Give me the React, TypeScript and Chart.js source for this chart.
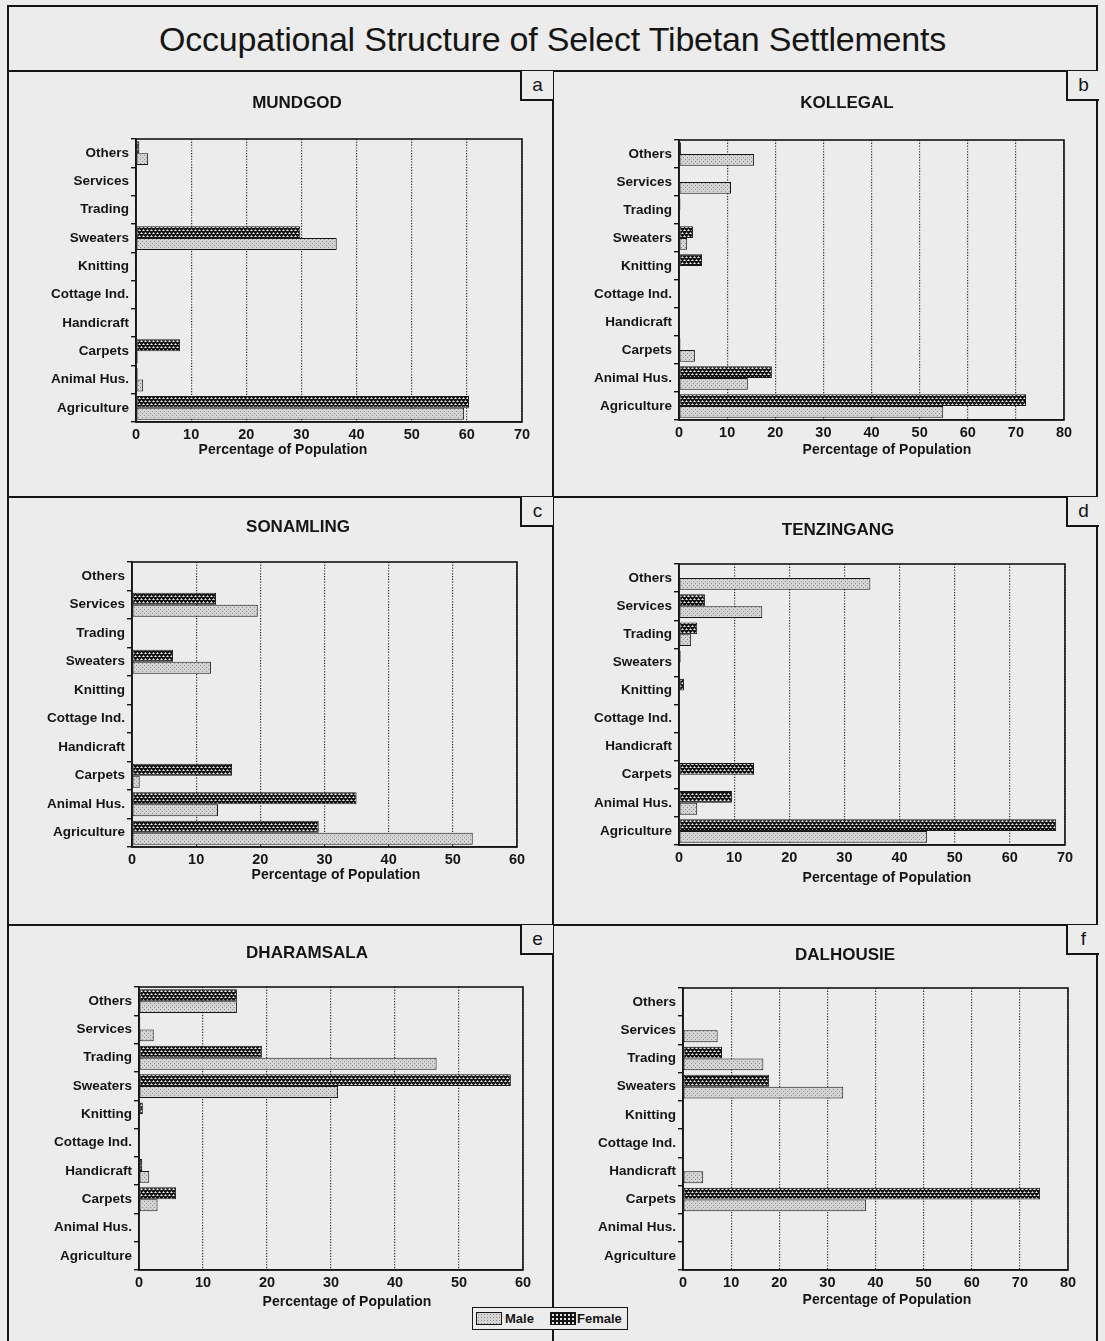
import React, { useEffect, useRef } from "react";
import { Chart, registerables } from "chart.js";

Chart.register(...registerables);

// ---------------- data ----------------
const categories = [
  "Others",
  "Services",
  "Trading",
  "Sweaters",
  "Knitting",
  "Cottage Ind.",
  "Handicraft",
  "Carpets",
  "Animal Hus.",
  "Agriculture",
];

const mundgodFemale = [0.6, 0, 0, 29.8, 0, 0, 0, 8, 0.3, 60.4];
const mundgodMale = [2.2, 0, 0, 36.4, 0, 0, 0, 0.3, 1.3, 59.5];
const mundgodMax = 70;

const kollegalFemale = [0.4, 0, 0.3, 2.9, 4.8, 0, 0, 0.3, 19.3, 72.1];
const kollegalMale = [15.6, 10.8, 0, 1.7, 0, 0, 0, 3.3, 14.3, 54.9];
const kollegalMax = 80;

const sonamlingFemale = [0, 13.1, 0, 6.4, 0, 0, 0, 15.6, 35, 29.1];
const sonamlingMale = [0, 19.6, 0, 12.3, 0, 0, 0, 1.2, 13.4, 53.1];
const sonamlingMax = 60;

const tenzingangFemale = [0, 4.7, 3.3, 0.3, 0.9, 0, 0, 13.6, 9.6, 68.4];
const tenzingangMale = [34.7, 15.1, 2.2, 0, 0, 0, 0, 0, 3.3, 45];
const tenzingangMax = 70;

const dharamsalaFemale = [15.3, 0.2, 19.2, 58.1, 0.6, 0, 0.5, 5.8, 0, 0];
const dharamsalaMale = [15.3, 2.3, 46.5, 31.1, 0, 0, 1.6, 2.9, 0, 0];
const dharamsalaMax = 60;

const dalhousieFemale = [0, 0, 8.1, 17.9, 0, 0, 0, 74.2, 0, 0];
const dalhousieMale = [0, 7.2, 16.7, 33.3, 0, 0, 4.2, 38, 0, 0];
const dalhousieMax = 80;

const mainTitle = "Occupational Structure of Select Tibetan Settlements";
const xAxisTitle = "Percentage of Population";
const seriesNames = ["Male", "Female"];

// ---------------- layout ----------------
const FONT = '"Liberation Sans", Arial, Helvetica, sans-serif';
const INK = "#151515";
const PAPER = "#ececec";
const XH = 24;

const panels = [
  { name: "MUNDGOD", letter: "a", female: mundgodFemale, male: mundgodMale, max: mundgodMax,
    cell: [10, 73, 541, 422], plot: [136, 139, 522, 422], title: [297, 103], axisTitle: [283, 450] },
  { name: "KOLLEGAL", letter: "b", female: kollegalFemale, male: kollegalMale, max: kollegalMax,
    cell: [555, 73, 540, 422], plot: [679, 140, 1064, 420], title: [847, 103], axisTitle: [887, 450] },
  { name: "SONAMLING", letter: "c", female: sonamlingFemale, male: sonamlingMale, max: sonamlingMax,
    cell: [10, 499, 541, 424], plot: [132, 562, 517, 847], title: [298, 527], axisTitle: [336, 875] },
  { name: "TENZINGANG", letter: "d", female: tenzingangFemale, male: tenzingangMale, max: tenzingangMax,
    cell: [555, 499, 540, 424], plot: [679, 564, 1065, 845], title: [838, 530], axisTitle: [887, 878] },
  { name: "DHARAMSALA", letter: "e", female: dharamsalaFemale, male: dharamsalaMale, max: dharamsalaMax,
    cell: [10, 927, 541, 414], plot: [139, 987, 523, 1270], title: [307, 953], axisTitle: [347, 1302] },
  { name: "DALHOUSIE", letter: "f", female: dalhousieFemale, male: dalhousieMale, max: dalhousieMax,
    cell: [555, 927, 540, 414], plot: [683, 988, 1068, 1270], title: [845, 955], axisTitle: [887, 1300] },
];

function makePattern(kind: string): CanvasPattern | string {
  const c = document.createElement("canvas");
  const g = c.getContext("2d");
  if (!g) return kind === "female" ? "#333" : "#ccc";
  if (kind === "female") {
    c.width = 4;
    c.height = 6;
    g.fillStyle = "#141414";
    g.fillRect(0, 0, 4, 6);
    // staggered white dots with grey halo
    g.fillStyle = "#9a9a9a";
    g.fillRect(1, 0, 1, 1);
    g.fillRect(0, 1, 1, 1);
    g.fillRect(2, 1, 1, 1);
    g.fillRect(3, 3, 1, 1);
    g.fillRect(0, 4, 1, 1);
    g.fillRect(2, 4, 1, 1);
    g.fillStyle = "#f0f0f0";
    g.fillRect(1, 1, 1, 1);
    g.fillRect(3, 4, 1, 1);
  } else {
    c.width = 4;
    c.height = 4;
    g.fillStyle = "#d4d4d4";
    g.fillRect(0, 0, 4, 4);
    g.fillStyle = "#8e8e8e";
    g.fillRect(0, 0, 1, 1);
    g.fillRect(2, 2, 1, 1);
  }
  return g.createPattern(c, "repeat") || "#ccc";
}

const framePlugin = {
  id: "plotFrame",
  afterDraw(chart: any) {
    const { ctx, chartArea } = chart;
    ctx.save();
    ctx.strokeStyle = INK;
    ctx.lineWidth = 1.6;
    ctx.strokeRect(chartArea.left, chartArea.top, chartArea.right - chartArea.left, chartArea.bottom - chartArea.top);
    ctx.restore();
  },
};

function textPlugin(p: any) {
  return {
    id: "panelText",
    afterDraw(chart: any) {
      const ctx = chart.ctx;
      ctx.save();
      ctx.fillStyle = INK;
      ctx.textAlign = "center";
      ctx.textBaseline = "middle";
      ctx.font = `bold 17px ${FONT}`;
      ctx.fillText(p.name, p.title[0] - p.cell[0], p.title[1] - p.cell[1]);
      ctx.font = `bold 14px ${FONT}`;
      ctx.fillText(xAxisTitle, p.axisTitle[0] - p.cell[0], p.axisTitle[1] - p.cell[1]);
      ctx.restore();
    },
  };
}

function Line({ x, y, w, h }: { x: number; y: number; w: number; h: number }) {
  return <div style={{ position: "absolute", left: x, top: y, width: w, height: h, background: INK }} />;
}

export default function App() {
  const refs = useRef<(HTMLCanvasElement | null)[]>([]);

  useEffect(() => {
    const femalePat = makePattern("female");
    const malePat = makePattern("male");
    const charts: Chart[] = [];
    panels.forEach((p, i) => {
      const canvas = refs.current[i];
      if (!canvas) return;
      const [cx, cy, cw, ch] = p.cell;
      const [L, T, R, B] = p.plot;
      const chart = new Chart(canvas, {
        type: "bar",
        data: {
          labels: categories,
          datasets: [
            {
              label: seriesNames[1],
              data: p.female,
              backgroundColor: femalePat as any,
              borderColor: INK,
              borderWidth: 1,
              borderSkipped: false,
              categoryPercentage: 0.84,
              barPercentage: 1,
            },
            {
              label: seriesNames[0],
              data: p.male,
              backgroundColor: malePat as any,
              borderColor: INK,
              borderWidth: 1,
              borderSkipped: false,
              categoryPercentage: 0.84,
              barPercentage: 1,
            },
          ],
        },
        options: {
          indexAxis: "y",
          responsive: false,
          maintainAspectRatio: false,
          animation: false,
          devicePixelRatio: 1,
          layout: { padding: { left: 0, top: T - cy, right: cx + cw - R, bottom: cy + ch - B - XH } },
          plugins: { legend: { display: false }, tooltip: { enabled: false }, title: { display: false } },
          scales: {
            x: {
              type: "linear",
              min: 0,
              max: p.max,
              ticks: { stepSize: 10, color: INK, padding: 4, font: { family: FONT, size: 14.5, weight: "bold" } },
              grid: { color: "#2e2e2e", lineWidth: 1.2, drawTicks: false },
              border: { display: true, color: INK, width: 1.6, dash: [1.2, 1.6] },
              afterFit: (s: any) => {
                s.height = XH;
              },
            },
            y: {
              type: "category",
              offset: true,
              grid: { offset: true, drawOnChartArea: false, drawTicks: true, tickLength: 5, color: INK, lineWidth: 1.4 },
              ticks: { color: INK, padding: 2, autoSkip: false, font: { family: FONT, size: 13.5, weight: "bold" } },
              border: { color: INK, width: 1.6 },
              afterFit: (s: any) => {
                s.width = L - cx;
              },
            },
          },
        } as any,
        plugins: [framePlugin, textPlugin(p)],
      });
      charts.push(chart);
    });
    return () => charts.forEach((c) => c.destroy());
  }, []);

  const swatchMale: React.CSSProperties = {
    position: "absolute",
    width: 24,
    height: 11,
    border: `1px solid ${INK}`,
    backgroundColor: "#d4d4d4",
    backgroundImage: "radial-gradient(#8e8e8e 0.7px, transparent 0.9px)",
    backgroundSize: "3px 3px",
  };
  const swatchFemale: React.CSSProperties = {
    ...swatchMale,
    backgroundColor: "#141414",
    backgroundImage: "radial-gradient(#e6e6e6 0.9px, transparent 1.2px)",
    backgroundSize: "4px 4px",
  };
  const legendText: React.CSSProperties = {
    position: "absolute",
    top: 3,
    font: `bold 13px ${FONT}`,
    color: INK,
    lineHeight: "16px",
  };

  const letterBoxes = [
    { l: "a", x: 520, y: 71 },
    { l: "b", x: 1066, y: 71 },
    { l: "c", x: 520, y: 497 },
    { l: "d", x: 1066, y: 497 },
    { l: "e", x: 520, y: 925 },
    { l: "f", x: 1066, y: 925 },
  ];

  return (
    <div
      style={{
        position: "absolute",
        left: 0,
        top: 0,
        width: 1105,
        height: 1341,
        overflow: "hidden",
        background: PAPER,
        fontFamily: FONT,
      }}
    >
      {panels.map((p, i) => (
        <canvas
          key={p.name}
          ref={(el) => {
            refs.current[i] = el;
          }}
          width={p.cell[2]}
          height={p.cell[3]}
          style={{ position: "absolute", left: p.cell[0], top: p.cell[1], width: p.cell[2], height: p.cell[3] }}
        />
      ))}

      <div
        style={{
          position: "absolute",
          left: 8,
          top: 7,
          width: 1089,
          height: 64,
          display: "flex",
          alignItems: "center",
          justifyContent: "center",
          font: `34px ${FONT}`,
          color: INK,
          letterSpacing: "-0.2px",
        }}
      >
        {mainTitle}
      </div>

      <Line x={7} y={5} w={1091} h={2} />
      <Line x={7} y={70} w={1091} h={2} />
      <Line x={7} y={496} w={1091} h={2} />
      <Line x={7} y={924} w={1091} h={2} />
      <Line x={7} y={5} w={2} h={1336} />
      <Line x={1096} y={5} w={2} h={1336} />
      <Line x={552} y={70} w={2} h={1271} />

      {letterBoxes.map((b) => (
        <div
          key={b.l}
          style={{
            position: "absolute",
            left: b.x,
            top: b.y,
            width: 31,
            height: 28,
            borderLeft: `2px solid ${INK}`,
            borderBottom: `2px solid ${INK}`,
            display: "flex",
            alignItems: "center",
            justifyContent: "center",
            font: `19px ${FONT}`,
            color: INK,
            background: PAPER,
          }}
        >
          {b.l}
        </div>
      ))}

      <div
        style={{
          position: "absolute",
          left: 472,
          top: 1307,
          width: 154,
          height: 21,
          border: `1.5px solid ${INK}`,
          background: PAPER,
        }}
      >
        <div style={{ ...swatchMale, left: 3, top: 4 }} />
        <div style={{ ...legendText, left: 32 }}>{seriesNames[0]}</div>
        <div style={{ ...swatchFemale, left: 77, top: 4 }} />
        <div style={{ ...legendText, left: 104 }}>{seriesNames[1]}</div>
      </div>
    </div>
  );
}
